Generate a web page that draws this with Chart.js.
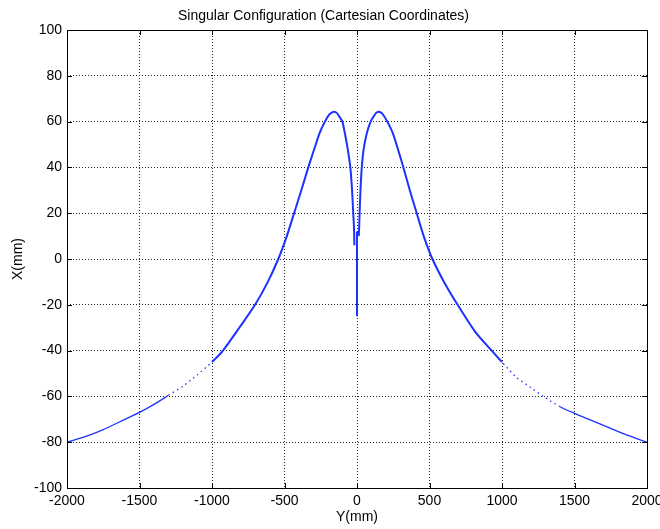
<!DOCTYPE html>
<html>
<head>
<meta charset="utf-8">
<script src="https://cdn.jsdelivr.net/npm/chart.js@4/dist/chart.umd.min.js"></script>
<style>
  html, body { margin: 0; padding: 0; background: #fff; }
  #wrap { width: 660px; height: 529px; }
</style>
</head>
<body>
<div id="wrap"><canvas id="c" width="660" height="529"></canvas></div>
<script>
// ---- Data (Y in mm on horizontal axis, X in mm on vertical axis) ----
const leftCurveY = [-2000, -1850, -1750, -1600, -1500, -1400, -1300, -1200, -1100, -1000, -930, -807, -703, -615, -543, -484, -434, -384, -336, -297, -258, -221, -192, -174, -158, -140, -120, -101, -84, -64, -46, -34, -26, -21, -18];
const leftCurveX = [-80, -77, -74.5, -70, -67, -63.5, -59.5, -55.5, -50.5, -45, -40.5, -29.6, -20, -10, 0, 10, 20, 30, 40, 47.6, 55, 60, 63, 63.9, 64.3, 63.8, 62, 60, 55, 48, 40, 30, 20, 14, 6];

const rightCurveY = [2000, 1850, 1750, 1600, 1500, 1400, 1285, 1200, 1100, 1000, 929, 814, 694, 600, 520, 460, 412, 364, 320, 284, 247, 209, 180, 166, 150, 132, 112, 94, 68, 46, 33, 24, 18, 15, 12];
const rightCurveX = [-80, -76.6, -74, -70, -67.4, -64.5, -60, -56.2, -51.7, -45, -40, -31.7, -20, -10, 0, 10, 20, 30, 40, 47.6, 55, 60, 63, 63.9, 64.3, 63.8, 62, 60, 55, 48, 40, 30, 20, 14, 10];

const centerLineY = [0, 0];
const centerLineX = [12, -25];

const xTickValues = [-2000, -1500, -1000, -500, 0, 500, 1000, 1500, 2000];
const yTickValues = [-100, -80, -60, -40, -20, 0, 20, 40, 60, 80, 100];

const titleText = 'Singular Configuration (Cartesian Coordinates)';
const xAxisTitle = 'Y(mm)';
const yAxisTitle = 'X(mm)';

// ---- Build datasets ----
function toPoints(ys, xs) { return ys.map((v, i) => ({ x: v, y: xs[i] })); }

const lineColor = 'rgb(30,50,255)';
function segWidth(ctx) {
  const a = Math.min(Math.abs(ctx.p0.parsed.x), Math.abs(ctx.p1.parsed.x));
  return a >= 1000 ? 1.3 : 2;
}
function segDash(ctx) {
  const a = Math.min(Math.abs(ctx.p0.parsed.x), Math.abs(ctx.p1.parsed.x));
  const b = Math.max(Math.abs(ctx.p0.parsed.x), Math.abs(ctx.p1.parsed.x));
  return (b > 1050 && a < 1300) ? [1.5, 3.5] : undefined;
}
function curveDataset(data) {
  return {
    data, showLine: true, borderColor: lineColor, backgroundColor: lineColor,
    borderWidth: 2, pointRadius: 0, tension: 0.25,
    segment: { borderWidth: segWidth, borderDash: segDash }
  };
}

const FONT = "'Liberation Sans', Arial, Helvetica, sans-serif";
const FS = 14;

const frame = {
  id: 'frame',
  afterDraw(chart) {
    const { ctx, chartArea: a, scales } = chart;
    ctx.save();
    ctx.strokeStyle = '#000';
    ctx.lineWidth = 1;
    ctx.strokeRect(Math.round(a.left) + 0.5, Math.round(a.top) + 0.5,
                   Math.round(a.right - a.left), Math.round(a.bottom - a.top));
    const t = 5;
    ctx.beginPath();
    scales.x.ticks.forEach(tk => {
      const px = Math.round(scales.x.getPixelForValue(tk.value)) + 0.5;
      ctx.moveTo(px, a.bottom); ctx.lineTo(px, a.bottom - t);
      ctx.moveTo(px, a.top); ctx.lineTo(px, a.top + t);
    });
    scales.y.ticks.forEach(tk => {
      const py = Math.round(scales.y.getPixelForValue(tk.value)) + 0.5;
      ctx.moveTo(a.left, py); ctx.lineTo(a.left + t, py);
      ctx.moveTo(a.right, py); ctx.lineTo(a.right - t, py);
    });
    ctx.stroke();
    ctx.restore();
  }
};

const bg = {
  id: 'bg',
  beforeDraw(chart) {
    const ctx = chart.ctx;
    ctx.save(); ctx.fillStyle = '#fff';
    ctx.fillRect(0, 0, chart.width, chart.height); ctx.restore();
  }
};

new Chart(document.getElementById('c'), {
  type: 'scatter',
  data: {
    datasets: [
      curveDataset(toPoints(leftCurveY, leftCurveX)),
      curveDataset(toPoints(rightCurveY, rightCurveX)),
      Object.assign(curveDataset(toPoints(centerLineY, centerLineX)), { tension: 0 })
    ]
  },
  options: {
    responsive: false,
    animation: false,
    layout: { padding: { left: 0, right: 13, top: 0, bottom: 0 } },
    plugins: {
      legend: { display: false },
      tooltip: { enabled: false },
      title: {
        display: true, text: titleText, color: '#000',
        font: { family: FONT, size: FS, weight: 'normal' },
        padding: { top: 7.6, bottom: 5.6 }
      }
    },
    scales: {
      x: {
        type: 'linear', min: -2000, max: 2000,
        afterBuildTicks: s => { s.ticks = xTickValues.map(v => ({ value: v })); },
        afterFit: s => { s.height = 41; s.paddingLeft = 0; s.paddingRight = 0; },
        ticks: { color: '#000', font: { family: FONT, size: FS }, padding: 5, maxRotation: 0, autoSkip: false, callback: v => String(v) },
        grid: { color: '#222', lineWidth: 1, drawTicks: false },
        border: { display: false, dash: [1, 2] },
        title: { display: true, text: xAxisTitle, color: '#000', font: { family: FONT, size: FS }, padding: { top: 0, bottom: 3.6 } }
      },
      y: {
        type: 'linear', min: -100, max: 100,
        afterBuildTicks: s => { s.ticks = yTickValues.map(v => ({ value: v })); },
        afterFit: s => { s.width = 67; s.paddingTop = 0; s.paddingBottom = 0; },
        ticks: { color: '#000', font: { family: FONT, size: FS }, padding: 5, autoSkip: false, callback: v => String(v) },
        grid: { color: '#222', lineWidth: 1, drawTicks: false },
        border: { display: false, dash: [1, 2] },
        title: { display: true, text: yAxisTitle, color: '#000', font: { family: FONT, size: FS }, padding: { top: 9.6, bottom: 0 } }
      }
    }
  },
  plugins: [bg, frame]
});
</script>
</body>
</html>
